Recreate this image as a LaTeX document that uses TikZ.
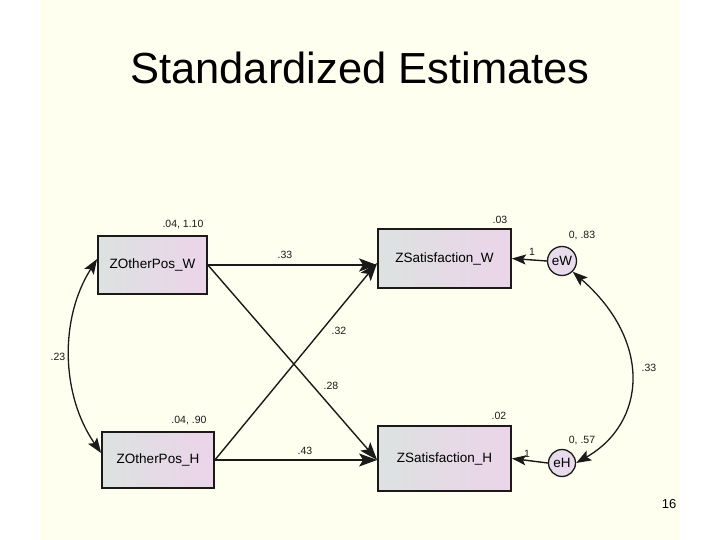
\documentclass[tikz,border=0pt]{standalone}
\usepackage{fontspec}
\setmainfont{Liberation Sans}
\usetikzlibrary{arrows.meta,shapes.geometric}
\definecolor{bgcream}{HTML}{FFFFF0}
\definecolor{boxleft}{HTML}{DCE2E0}
\definecolor{boxright}{HTML}{ECD4EA}
\definecolor{errfill}{HTML}{E8DCEC}
\definecolor{ink}{HTML}{1A1A1A}
\tikzset{
  varbox/.style={draw=ink, line width=1.8pt, rectangle, inner sep=0pt,
    left color=boxleft, right color=boxright, font=\fontsize{13.5}{16}\selectfont},
  errcirc/.style={draw=ink, line width=1.3pt, circle, inner sep=0pt,
    fill=errfill, font=\fontsize{13.5}{16}\selectfont},
  lbl/.style={font=\fontsize{10.5}{12}\selectfont, text=ink, inner sep=0pt},
  bighead/.style={-{Stealth[length=18pt,width=13pt,inset=4pt]}},
  path1/.style={draw=ink, line width=1.8pt, bighead},
  path2/.style={draw=ink, line width=1.4pt, bighead},
  cov/.style={draw=ink, line width=1.3pt, {Stealth[length=15pt,width=11pt,inset=3pt]}-{Stealth[length=15pt,width=11pt,inset=3pt]}},
  errpath/.style={draw=ink, line width=1.4pt, -{Stealth[length=14pt,width=10pt,inset=3pt]}},
}
\begin{document}
\begin{tikzpicture}[x=1pt,y=-1pt]
\useasboundingbox (0,0) rectangle (720,540);
\fill[white] (0,0) rectangle (720,540);
\fill[bgcream] (40,0) rectangle (680,540);

\node[font=\fontsize{43.5}{50}\selectfont] (title) at (360,68) {Standardized Estimates};

\node[varbox, minimum width=109pt, minimum height=58pt] (zw) at (152.5,265) {ZOtherPos\_W};
\node[varbox, minimum width=112pt, minimum height=56pt] (zh) at (158,460) {ZOtherPos\_H};
\node[varbox, minimum width=133pt, minimum height=59pt] (sw) at (444.5,258.5) {ZSatisfaction\_W};
\node[varbox, minimum width=133pt, minimum height=65pt] (sh) at (444.5,458.5) {ZSatisfaction\_H};
\node[errcirc, minimum size=29pt] (ew) at (562,261) {eW};
\node[errcirc, minimum size=27pt] (eh) at (562,463) {eH};

\coordinate (swin) at (zw.east -| sw.west);
\coordinate (shin) at (zh.east -| sh.west);

% regression paths
\draw[path1] (zw.east) -- (swin);
\draw[path2] (zw.east) -- (shin);
\draw[path2] (zh.east) -- ([yshift=2pt]swin);
\draw[path2, line width=1.1pt] (zh.east) -- (shin);
\draw[errpath] (ew.west) -- (sw.east);
\draw[errpath] (eh.west) -- (sh.east);

% covariances
\draw[cov] ([yshift=6pt]zw.west) .. controls +(-38,60) and +(-40,-58) .. ([yshift=7pt]zh.west);
\draw[cov] (ew.south east) .. controls +(80,70) and +(70,-40) .. (eh.east);

% labels
\node[lbl] (l1) at (183,225) {.04, 1.10};
\node[lbl] (l2) at (285,255) {.33};
\node[lbl] (l3) at (500,220) {.03};
\node[lbl] (l4) at (532,252) {1};
\node[lbl] (l5) at (582,236) {0, .83};
\node[lbl] (l6) at (58,357) {.23};
\node[lbl] (l7) at (339,331) {.32};
\node[lbl] (l8) at (331,386) {.28};
\node[lbl] (l9) at (189,421) {.04, .90};
\node[lbl] (l10) at (499,416) {.02};
\node[lbl] (l11) at (305,451) {.43};
\node[lbl] (l12) at (527,454) {1};
\node[lbl] (l13) at (582,441) {0, .57};
\node[lbl] (l14) at (649,368) {.33};
\node[font=\fontsize{13}{15}\selectfont] (pg) at (669,504) {16};
\end{tikzpicture}
\end{document}
